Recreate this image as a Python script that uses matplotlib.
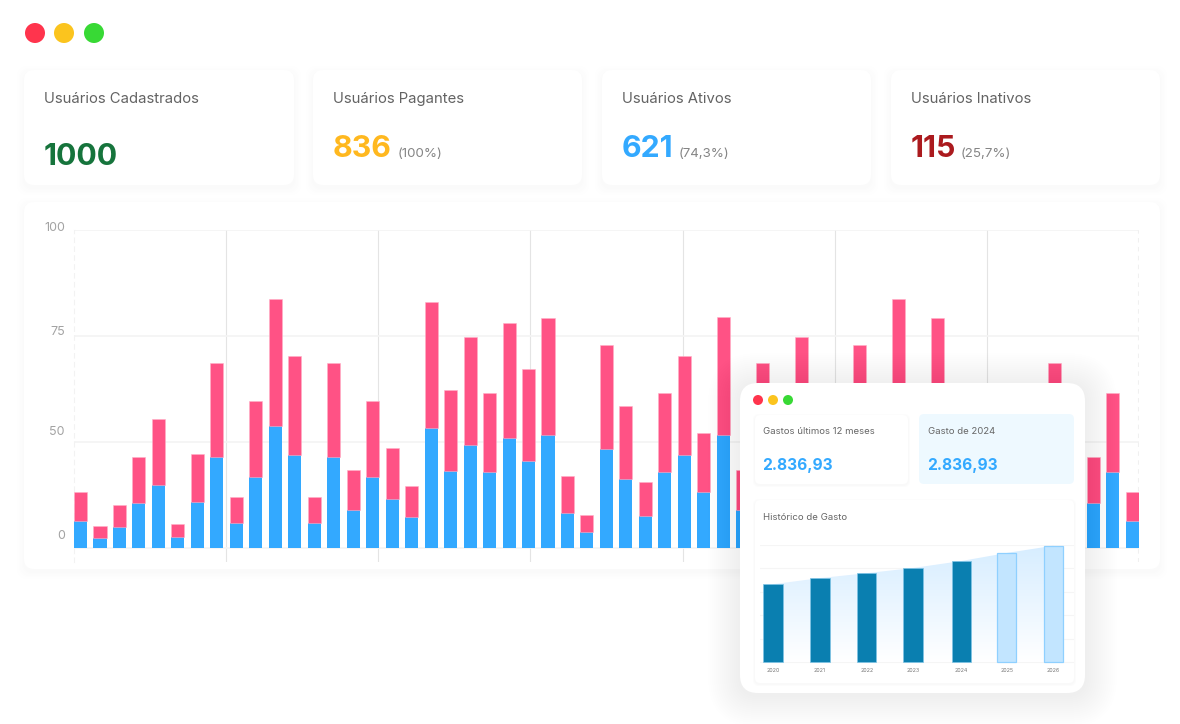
# -*- coding: utf-8 -*-
"""
Painel de usuários e gastos
"""

import pandas as pd
import numpy as np
import matplotlib.pyplot as plt
from matplotlib.patches import FancyBboxPatch, Circle, Polygon
from matplotlib.colors import LinearSegmentedColormap

plt.rcParams['font.family'] = ['Inter', 'DejaVu Sans']

azul = [8.5,3.3,6.5,14.0,19.8,3.5,14.5,28.5,7.8,22.4,38.4,29.4,7.8,28.5,12.0,22.4,15.4,9.6,37.8,24.2,
        32.4,23.8,34.7,27.5,35.4,11.1,5.1,31.1,21.8,10.0,23.8,29.4,17.6,35.5,12.0,28.5,19.0,32.4,15.0,12.0,
        31.1,21.0,38.4,10.0,35.4,11.0,5.0,17.0,15.0,9.0,28.5,10.0,14.0,23.8,8.5]
total = [17.5,7.0,13.6,28.6,40.7,7.5,29.6,58.2,16.1,46.2,78.4,60.3,16.1,58.2,24.6,46.2,31.6,19.6,77.3,49.8,
         66.3,48.7,70.8,56.3,72.3,22.5,10.5,63.7,44.6,20.6,48.7,60.3,36.2,72.6,24.6,58.2,40.0,66.3,30.0,25.0,
         63.7,44.0,78.4,20.0,72.3,22.5,10.5,35.0,30.0,18.0,58.2,20.0,28.6,48.7,17.5]
df = pd.DataFrame({'azul': azul, 'total': total})
df['rosa'] = df['total'] - df['azul']

df_gasto = pd.DataFrame({'ano': [2020,2021,2022,2023,2024,2025,2026],
                         'pos': [0,1,2,2.99,4.03,4.99,5.99],
                         'valor': [3.33,3.59,3.80,4.02,4.32,4.66,4.97]})

fig = plt.figure(figsize=(11.8,7.24), dpi=100)

# fundo em pixels
fundo = plt.axes([0,0,1,1], zorder=0)
plt.xlim(0,1180)
plt.ylim(724,0)
plt.axis('off')

for x, cor in [(35,'#ff344d'), (64,'#fbc41e'), (94,'#38d935')]:
    fundo.add_patch(Circle((x,33), 10, color=cor, lw=0))

cards = [(24,70,270,115), (313,70,269,115), (602,70,269,115), (891,70,269,115), (24,202,1136,367)]
tons = ['#fefefe','#fdfdfd','#fcfcfc','#fbfbfb','#fafafa']
for c in cards:
    for k, tom in zip([7,5,4,2,1], tons):
        fundo.add_patch(FancyBboxPatch((c[0]-k,c[1]-k+3), c[2]+2*k, c[3]+2*k, boxstyle='round,pad=0,rounding_size=12',
                                       fc=tom, ec='none'))
    fundo.add_patch(FancyBboxPatch((c[0],c[1]), c[2], c[3], boxstyle='round,pad=0,rounding_size=10', fc='white', ec='none'))

textos = [(44,'Usuários Cadastrados','1000','#16743c',165,None,0),
          (333,'Usuários Pagantes','836','#ffb81f',157,'(100%)',398),
          (622,'Usuários Ativos','621','#33a9ff',157,'(74,3%)',679),
          (911,'Usuários Inativos','115','#ab1a1e',157,'(25,7%)',961)]
for t in textos:
    plt.text(t[0], 102.7, t[1], fontsize=10.7, color='#636363', va='baseline')
    plt.text(t[0], t[4], t[2], fontsize=21.8, color=t[3], va='baseline', fontweight='bold')
    if t[5] is not None:
        plt.text(t[6], 157, t[5], fontsize=9.6, color='#858585', va='baseline')

# grafico principal
ax = plt.axes([74/1180, 1-562/724, 1065/1180, 332/724], zorder=1)
ax.patch.set_alpha(0)
i = np.arange(len(df))
plt.bar(i, df['azul'].values, width=0.67, color='#33a9ff', zorder=3)
plt.bar(i, df['rosa'].values, width=0.67, bottom=df['azul'].values, color='#ff5285', edgecolor='#ffb0c8', linewidth=0.4, zorder=3)
plt.xlim(-0.334,54.34)
plt.ylim(-4.4,100)
plt.xticks([7.47,15.27,23.08,30.93,38.73,46.53], [])
plt.yticks([0,33.33,66.67,100], [])
plt.tick_params(length=0)
plt.grid(axis='x', color='#e4e4e4', linewidth=0.8, zorder=1)
plt.grid(axis='y', color='#f4f4f4', linewidth=1.2, zorder=1)
for lado in ['top','right','bottom']:
    ax.spines[lado].set_visible(False)
ax.spines['left'].set(color='#f2f2f2', linestyle=(0,(4,4)), linewidth=0.8)
plt.axvline(54.3, color='#f0f0f0', linestyle=(0,(4,4)), linewidth=0.8)
for valor, rotulo in [(100.5,'100'), (68,'75'), (36.6,'50'), (3.7,'0')]:
    plt.text(-0.8, valor, rotulo, fontsize=9, color='#a3a3a3', ha='right', va='center', clip_on=False)

# painel da frente
frente = plt.axes([0,0,1,1], zorder=2)
frente.patch.set_alpha(0)
plt.xlim(0,1180)
plt.ylim(724,0)
plt.axis('off')
for k in range(2,34,2):
    frente.add_patch(FancyBboxPatch((740-k,383-k+2), 345+2*k, 310+2*k, boxstyle='round,pad=0,rounding_size=%d' % (18+k),
                                    fc='black', ec='none', alpha=0.0032))
frente.add_patch(FancyBboxPatch((740,383), 345, 310, boxstyle='round,pad=0,rounding_size=18', fc='white', ec='none'))
for x, cor in [(758,'#ff344d'), (773,'#fbc41e'), (788,'#38d935')]:
    frente.add_patch(Circle((x,400), 5, color=cor, lw=0))

for c in [(755,415,153,69,'white'), (755,500,319,183,'white'), (919,414,155,70,'#eef9ff')]:
    if c[4] == 'white':
        for k, tom in zip([2,1], ['#fcfcfc','#f9f9f9']):
            frente.add_patch(FancyBboxPatch((c[0]-k,c[1]-k+1), c[2]+2*k, c[3]+2*k, boxstyle='round,pad=0,rounding_size=6',
                                            fc=tom, ec='none'))
    frente.add_patch(FancyBboxPatch((c[0],c[1]), c[2], c[3], boxstyle='round,pad=0,rounding_size=5', fc=c[4], ec='none'))

plt.text(763, 433.5, 'Gastos últimos 12 meses', fontsize=6.9, color='#666666', va='baseline')
plt.text(928.5, 433.5, 'Gasto de 2024', fontsize=6.9, color='#666666', va='baseline')
plt.text(762.5, 470, '2.836,93', fontsize=11.2, color='#33a9ff', va='baseline', fontweight='bold')
plt.text(927.5, 470, '2.836,93', fontsize=11.2, color='#33a9ff', va='baseline', fontweight='bold')
plt.text(763, 520.5, 'Histórico de Gasto', fontsize=6.9, color='#666666', va='baseline')

# grafico pequeno
ux = plt.axes([760/1180, 1-672/724, 314/1180, 127/724], zorder=3)
ux.patch.set_alpha(0)
plt.xlim(-0.278,6.43)
plt.ylim(-0.41,5)
plt.yticks([0,1,2,3,4,5], [])
plt.xticks([])
plt.grid(axis='y', color='#f5f5f5', linewidth=0.8, zorder=1)
ux.set_axisbelow(True)
plt.tick_params(length=0)
for lado in ux.spines:
    ux.spines[lado].set_visible(False)

mapa = LinearSegmentedColormap.from_list('gasto', ['#d6edff','#ffffff'])
grad = np.linspace(0,1,200).reshape(-1,1)
img = plt.imshow(grad, cmap=mapa, extent=[0,5.99,0,5], aspect='auto', zorder=2)
plt.xlim(-0.278,6.43)
plt.ylim(-0.41,5)
area = Polygon(list(zip(df_gasto['pos'].values, df_gasto['valor'].values)) + [(5.99,0),(0,0)], transform=ux.transData, fc='none', ec='none')
ux.add_patch(area)
img.set_clip_path(area)

real = df_gasto[df_gasto.ano <= 2024]
proj = df_gasto[df_gasto.ano > 2024]
plt.bar(real['pos'].values, real['valor'].values, width=0.42, color='#0a7fb0', edgecolor='#7fc4e6', linewidth=0.5, zorder=3)
plt.bar(proj['pos'].values, proj['valor'].values, width=0.42, color='#c2e5ff', edgecolor='#8fd0ff', linewidth=0.9, zorder=3)
for p, a in zip(df_gasto['pos'].values, df_gasto['ano'].values):
    plt.text(p, -0.33, str(a), fontsize=3.8, color='#777777', ha='center', va='center')

fig.savefig('out.png', dpi=100)
